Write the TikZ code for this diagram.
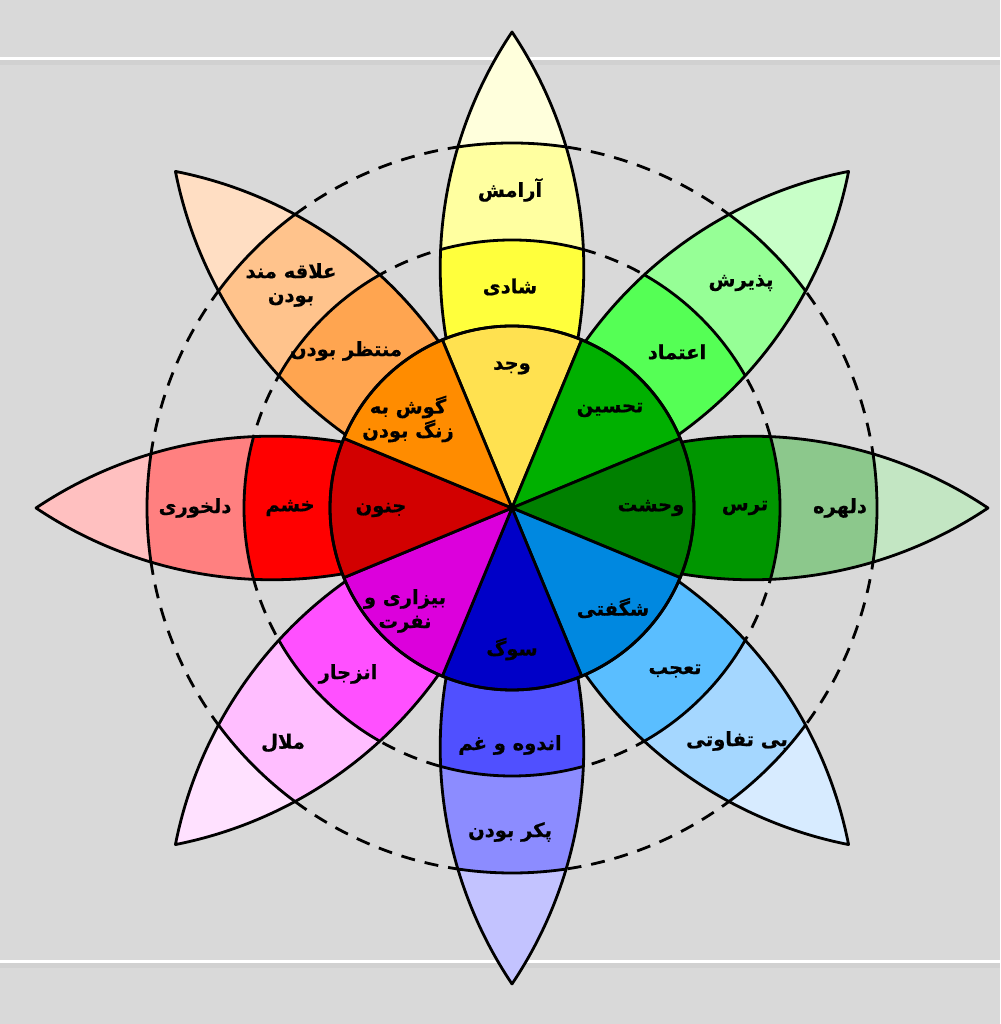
\documentclass[tikz,border=0pt]{standalone}
\usepackage{fontspec}
\newfontfamily\fa[Script=Arabic,BoldFeatures={FakeBold=0.7}]{DejaVu Sans}
\TeXXeTstate=1
\definecolor{bg}{HTML}{D9D9D9}
\definecolor{bgshadow}{HTML}{D1D1D1}
% yellow
\definecolor{cYa}{HTML}{FFE150}\definecolor{cYb}{HTML}{FFFF3C}\definecolor{cYc}{HTML}{FFFFA0}\definecolor{cYd}{HTML}{FFFFDC}
% light green
\definecolor{cGa}{HTML}{00B000}\definecolor{cGb}{HTML}{55FF55}\definecolor{cGc}{HTML}{96FF96}\definecolor{cGd}{HTML}{C8FFC8}
% dark green
\definecolor{cDa}{HTML}{008000}\definecolor{cDb}{HTML}{009600}\definecolor{cDc}{HTML}{8CC88C}\definecolor{cDd}{HTML}{C3E6C3}
% blue
\definecolor{cBa}{HTML}{0088E0}\definecolor{cBb}{HTML}{5ABEFF}\definecolor{cBc}{HTML}{A5D7FF}\definecolor{cBd}{HTML}{D7EBFF}
% indigo
\definecolor{cIa}{HTML}{0000C8}\definecolor{cIb}{HTML}{5050FF}\definecolor{cIc}{HTML}{8C8CFF}\definecolor{cId}{HTML}{C3C3FF}
% magenta
\definecolor{cMa}{HTML}{DC00DC}\definecolor{cMb}{HTML}{FF50FF}\definecolor{cMc}{HTML}{FFBEFF}\definecolor{cMd}{HTML}{FFE1FF}
% red
\definecolor{cRa}{HTML}{D20000}\definecolor{cRb}{HTML}{FF0000}\definecolor{cRc}{HTML}{FF8080}\definecolor{cRd}{HTML}{FFC0C0}
% orange
\definecolor{cOa}{HTML}{FF8C00}\definecolor{cOb}{HTML}{FFA550}\definecolor{cOc}{HTML}{FFC38C}\definecolor{cOd}{HTML}{FFDEC3}
\tikzset{
  outl/.style={draw=black,line width=2.8,line join=round},
  dashring/.style={draw=black,line width=2.8,dash pattern=on 14 off 10},
  lab/.style={font=\fa\bfseries\fontsize{19.5}{24}\selectfont,text=black,align=center,inner sep=0},
}
\newcommand\petalpiece[5]{%
  \begin{scope}[shift={(512,516)},rotate=#1]
    \begin{scope}
      \clip (0,0) -- (65.86,169.32) arc[start angle=-9.6,end angle=33.84,radius=423.8]
            arc[start angle=146.16,end angle=189.6,radius=423.8] -- cycle;
      \fill[fill=#5] (0,0) circle[radius=490];
      \fill[fill=#4] (0,0) circle[radius=365];
      \fill[fill=#3] (0,0) circle[radius=268];
      \draw[outl] (0,0) circle[radius=365] (0,0) circle[radius=268];
    \end{scope}
    \draw[outl] (0,0) -- (65.86,169.32) arc[start angle=-9.6,end angle=33.84,radius=423.8]
          arc[start angle=146.16,end angle=189.6,radius=423.8] -- cycle;
  \end{scope}}
\newcommand\sectorpiece[2]{%
  \begin{scope}[shift={(512,516)},rotate=#1]
    \filldraw[fill=#2,outl] (0,0) -- (67.5:182) arc[start angle=67.5,end angle=112.5,radius=182] -- cycle;
  \end{scope}}
\begin{document}
\begin{tikzpicture}[x=1pt,y=1pt]
\useasboundingbox (0,0) rectangle (1000,1024);
\fill[bg] (0,0) rectangle (1000,1024);
\draw[bgshadow,line width=5] (0,961.5) -- (1000,961.5);
\draw[white,line width=3] (0,965.3) -- (1000,965.3);
\draw[bgshadow,line width=5] (0,58.5) -- (1000,58.5);
\draw[white,line width=3] (0,62) -- (1000,62);
% dashed rings
\draw[dashring] (512,516) circle[radius=365];
\draw[dashring] (512,516) circle[radius=268];
% petals
\petalpiece{0}{cYa}{cYb}{cYc}{cYd}
\petalpiece{-45}{cGa}{cGb}{cGc}{cGd}
\petalpiece{-90}{cDa}{cDb}{cDc}{cDd}
\petalpiece{-135}{cBa}{cBb}{cBc}{cBd}
\petalpiece{180}{cIa}{cIb}{cIc}{cId}
\petalpiece{135}{cMa}{cMb}{cMc}{cMd}
\petalpiece{90}{cRa}{cRb}{cRc}{cRd}
\petalpiece{45}{cOa}{cOb}{cOc}{cOd}
% central disk
\sectorpiece{0}{cYa}
\sectorpiece{-45}{cGa}
\sectorpiece{-90}{cDa}
\sectorpiece{-135}{cBa}
\sectorpiece{180}{cIa}
\sectorpiece{135}{cMa}
\sectorpiece{90}{cRa}
\sectorpiece{45}{cOa}
\draw[outl] (512,516) circle[radius=182];
% labels
\node[lab] (y3) at (510,834) {\beginR آرامش\endR};
\node[lab] (y2) at (510,737) {\beginR شادی\endR};
\node[lab] (y1) at (512,656) {\beginR وجد\endR};
\node[lab] (g3) at (741,741) {\beginR پذیرش\endR};
\node[lab] (g2) at (677,672) {\beginR اعتماد\endR};
\node[lab] (g1) at (610,614) {\beginR تحسین\endR};
\node[lab] (d3) at (840,516) {\beginR دلهره\endR};
\node[lab] (d2) at (745,516) {\beginR ترس\endR};
\node[lab] (d1) at (651,516) {\beginR وحشت\endR};
\node[lab] (b3) at (737,283) {\beginR بی تفاوتی\endR};
\node[lab] (b2) at (675,353) {\beginR تعجب\endR};
\node[lab] (b1) at (613,416) {\beginR شگفتی\endR};
\node[lab] (i3) at (510,192) {\beginR پکر بودن\endR};
\node[lab] (i2) at (510,279) {\beginR اندوه و غم\endR};
\node[lab] (i1) at (512,375) {\beginR سوگ\endR};
\node[lab] (m3) at (283,281) {\beginR ملال\endR};
\node[lab] (m2) at (348,350) {\beginR انزجار\endR};
\node[lab] (m1) at (405,413) {\beginR بیزاری و\endR\\\beginR نفرت\endR};
\node[lab] (r3) at (195,516) {\beginR دلخوری\endR};
\node[lab] (r2) at (290,516) {\beginR خشم\endR};
\node[lab] (r1) at (381,514) {\beginR جنون\endR};
\node[lab] (o3) at (291,739) {\beginR علاقه مند\endR\\\beginR بودن\endR};
\node[lab] (o2) at (346,673) {\beginR منتظر بودن\endR};
\node[lab] (o1) at (408,605) {\beginR گوش به\endR\\\beginR زنگ بودن\endR};
\end{tikzpicture}
\end{document}
